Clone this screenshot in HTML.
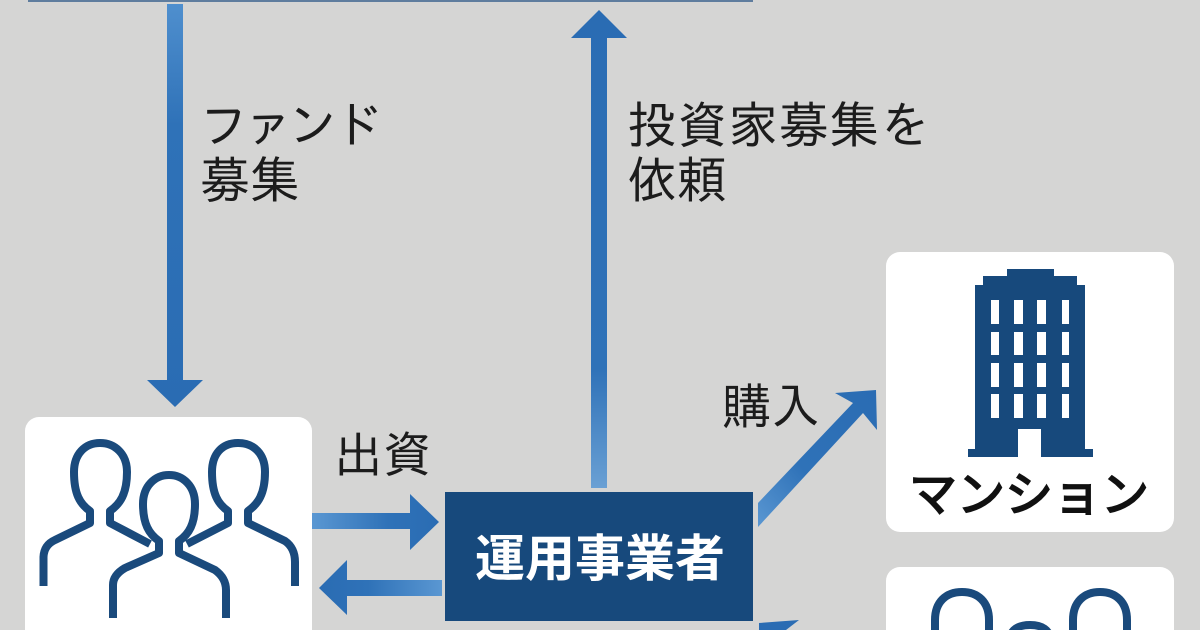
<!DOCTYPE html>
<html lang="ja"><head><meta charset="utf-8">
<style>
html,body{margin:0;padding:0;width:1200px;height:630px;overflow:hidden;background:#d5d5d4}
svg{display:block}
text{font-family:"Liberation Sans","Noto Sans CJK JP",sans-serif}
.t{font-family:"Liberation Sans","IPAGothic","Noto Sans CJK JP",sans-serif;font-size:50px;fill:#1c1c1c;font-weight:400}
</style></head><body>
<svg width="1200" height="630" viewBox="0 0 1200 630" xmlns="http://www.w3.org/2000/svg">
<defs>
<linearGradient id="gd" x1="0" y1="0" x2="0" y2="1"><stop offset="0" stop-color="#4f8fce"/><stop offset=".3" stop-color="#2f72b8"/><stop offset="1" stop-color="#2a6cb3"/></linearGradient>
<linearGradient id="gu" x1="0" y1="1" x2="0" y2="0"><stop offset="0" stop-color="#6aa0d4"/><stop offset=".25" stop-color="#2f72b8"/><stop offset="1" stop-color="#2a6cb3"/></linearGradient>
<linearGradient id="gr" x1="0" y1="0" x2="1" y2="0"><stop offset="0" stop-color="#5a97d2"/><stop offset=".6" stop-color="#2f72b8"/><stop offset="1" stop-color="#2a6cb3"/></linearGradient>
<linearGradient id="gl" x1="1" y1="0" x2="0" y2="0"><stop offset="0" stop-color="#5a97d2"/><stop offset=".6" stop-color="#2f72b8"/><stop offset="1" stop-color="#2a6cb3"/></linearGradient>
<linearGradient id="gx" x1="0" y1="1" x2="1" y2="0"><stop offset="0" stop-color="#5a97d2"/><stop offset=".4" stop-color="#2f72b8"/><stop offset="1" stop-color="#2a6cb3"/></linearGradient>
</defs>
<rect width="1200" height="630" fill="#d5d5d4"/>
<rect x="28" y="0" width="725" height="2" fill="#5f7d9e"/>

<!-- Vertical arrows -->
<polygon points="167,4 183,4 183,380 203,380 175,407 147,380 167,380" fill="url(#gd)"/>
<polygon points="591,488 591,38 571,38 599,10 627,38 607,38 607,488" fill="url(#gu)"/>

<!-- Labels -->
<text class="t" x="199" y="143" textLength="183" lengthAdjust="spacing">ファンド</text>
<text class="t" x="200" y="198">募集</text>
<text class="t" x="627" y="143" textLength="303" lengthAdjust="spacing">投資家募集を</text>
<text class="t" x="627" y="198">依頼</text>
<text class="t" x="334" y="472" style="font-size:49px">出資</text>
<text class="t" x="722" y="424" style="font-size:49px">購入</text>

<!-- Investor card -->
<rect x="25" y="417" width="287" height="240" rx="14" fill="#fff"/>
<g fill="none" stroke="#1a4a7c" stroke-width="8" stroke-linejoin="round">
<path d="M43.5 586V557Q44 545 55 540L90 523V511C80 504 74 494 74 472C74 454 85 443 100 443C115 443 127 454 127 472C127 494 120 504 110 511V523L150 544"/>
<path d="M187 544L228 523V511C218 504 212 494 212 472C212 454 222 443 238 443C254 443 265 454 265 472C265 494 258 504 248 511V523L285 541Q295 548 295 562V586"/>
<path d="M113 618V585Q113 575 125 568L159 553V541C149 534 143 524 143 504C143 486 155 475 169 475C183 475 195 486 195 504C195 524 189 534 179 541V553L215 570Q226 578 226 590V618"/>
</g>

<!-- Horizontal arrows -->
<polygon points="312,513 410,513 410,494 439,522 410,550 410,529 312,529" fill="url(#gr)"/>
<polygon points="442,580 347,580 347,560 319,588 347,615 347,596 442,596" fill="url(#gl)"/>

<!-- Operator box -->
<rect x="445" y="492" width="308" height="129" fill="#17497c"/>
<text x="475" y="576" fill="#fff" style="font-size:50px;font-weight:700">運用事業者</text>

<!-- Diagonal arrows -->
<polygon points="758,503 853,403 835,393 876,390 877,430 863,413 758,527" fill="url(#gx)"/>
<polygon points="759,623 799,620 786,630 759,630" fill="#2a6cb3"/>

<!-- Apartment card -->
<rect x="886" y="252" width="288" height="280" rx="14" fill="#fff"/>
<path d="M1007 269H1054V276H1077V285H1085V449H1093V457H1041V429H1018V457H968V449H975V285H983V276H1007Z" fill="#17497c"/>
<g fill="#fff">
<rect x="991" y="300" width="8" height="24"/><rect x="1014" y="300" width="9" height="24"/><rect x="1037" y="300" width="9" height="24"/><rect x="1062" y="300" width="7" height="24"/>
<rect x="991" y="332" width="8" height="23"/><rect x="1014" y="332" width="9" height="23"/><rect x="1037" y="332" width="9" height="23"/><rect x="1062" y="332" width="7" height="23"/>
<rect x="991" y="363" width="8" height="24"/><rect x="1014" y="363" width="9" height="24"/><rect x="1037" y="363" width="9" height="24"/><rect x="1062" y="363" width="7" height="24"/>
<rect x="991" y="394" width="8" height="24"/><rect x="1014" y="394" width="9" height="24"/><rect x="1037" y="394" width="9" height="24"/><rect x="1062" y="394" width="7" height="24"/>
</g>
<text x="909" y="511" fill="#111" stroke="#111" stroke-width="1.8" style="font-size:48px;font-weight:400">マンション</text>

<!-- Lower card -->
<rect x="886" y="567" width="288" height="90" rx="14" fill="#fff"/>
<g fill="none" stroke="#1a4a7c" stroke-width="8">
<path d="M935 640V620C935 602 946 592 962 592C978 592 989 602 989 620V640"/>
<path d="M1073 640V620C1073 602 1084 592 1100 592C1116 592 1127 602 1127 620V640"/>
<path d="M1010 640C1010 630 1018 625 1030 625C1042 625 1050 630 1050 640"/>
</g>
</svg>
</body></html>
